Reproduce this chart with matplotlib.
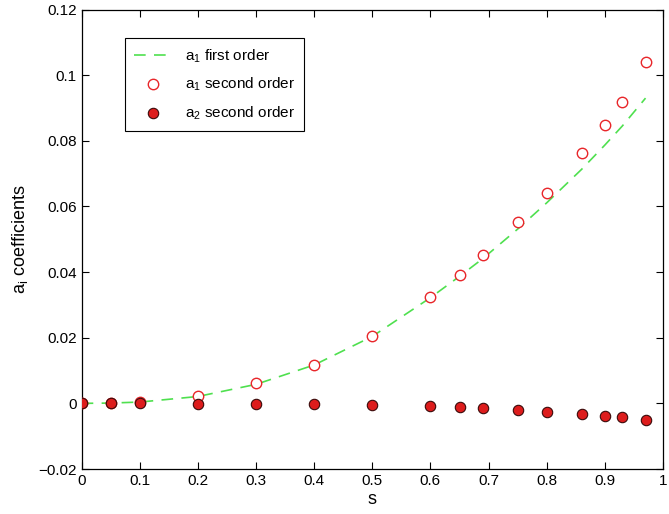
import matplotlib
matplotlib.use("Agg")
import matplotlib.pyplot as plt

plt.rcParams['font.family'] = ['Liberation Sans', 'DejaVu Sans']
plt.rcParams['mathtext.default'] = 'regular'

# s positions of the samples
s = [0, 0.05, 0.1, 0.2, 0.3, 0.4, 0.5, 0.6, 0.65, 0.69, 0.75, 0.8, 0.86, 0.9, 0.93, 0.97]

# a1, first order (dashed line)
a1_first = [0, 0.0001, 0.0004, 0.0021, 0.0058, 0.0117, 0.0204, 0.0322, 0.0387, 0.0441,
            0.0531, 0.0611, 0.0713, 0.0787, 0.0845, 0.0930]

# a1, second order (open circles)
a1_second = [0, 0.0001, 0.0004, 0.0023, 0.0061, 0.0118, 0.0206, 0.0324, 0.0391, 0.0453,
             0.0553, 0.0641, 0.0762, 0.0848, 0.0917, 0.1040]

# a2, second order (filled circles)
a2_second = [0, 0, 0, -0.0001, -0.0001, -0.0002, -0.0004, -0.0008, -0.0011, -0.0015,
             -0.0020, -0.0025, -0.0033, -0.0039, -0.0043, -0.0052]

fig = plt.figure(figsize=(6.69, 5.14), dpi=100)
ax = fig.add_axes([0.122, 0.0875, 0.869, 0.894])

ax.plot(s, a1_first, color='#4fe04f', lw=1.2, dashes=(7, 5), label='a$_1$ first order')
ax.plot(s, a1_second, 'o', ms=7.5, mfc='white', mec='#e8262a', mew=1.0,
        label='a$_1$ second order', zorder=3)
ax.plot(s, a2_second, 'o', ms=7.5, mfc='#dd1c1c', mec='#3a0a0a', mew=0.8,
        label='a$_2$ second order', zorder=4)

ax.set_xlim(0, 1)
ax.set_ylim(-0.02, 0.12)
ax.set_xticks([0, 0.1, 0.2, 0.3, 0.4, 0.5, 0.6, 0.7, 0.8, 0.9, 1])
ax.set_xticklabels(['0', '0.1', '0.2', '0.3', '0.4', '0.5', '0.6', '0.7', '0.8', '0.9', '1'])
ax.set_yticks([-0.02, 0, 0.02, 0.04, 0.06, 0.08, 0.1, 0.12])
ax.set_yticklabels(['\u22120.02', '0', '0.02', '0.04', '0.06', '0.08', '0.1', '0.12'])
ax.tick_params(direction='in', top=True, right=True, length=5, width=0.8, labelsize=11)
for sp in ax.spines.values():
    sp.set_linewidth(0.9)

ax.set_xlabel('s', fontsize=13, labelpad=2)
ax.set_ylabel('a$_i$ coefficients', fontsize=13, labelpad=6)

leg = ax.legend(loc='upper left', bbox_to_anchor=(0.075, 0.938), fontsize=11,
                frameon=True, fancybox=False, edgecolor='black', framealpha=1,
                handlelength=2.4, handletextpad=0.9, labelspacing=0.75,
                borderpad=0.6, borderaxespad=0)
leg.get_frame().set_linewidth(0.8)

fig.savefig('out.png', dpi=100)
